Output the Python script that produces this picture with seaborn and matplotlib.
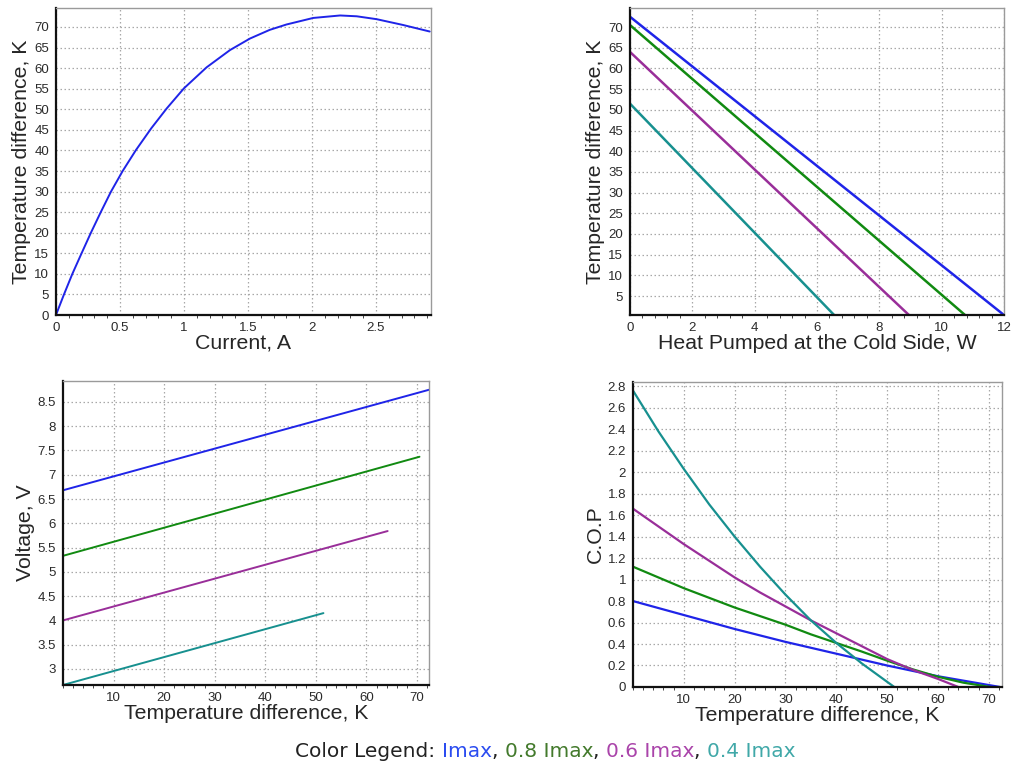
import matplotlib
matplotlib.use("Agg")
import matplotlib.pyplot as plt
import pandas as pd
import seaborn as sns
from matplotlib.offsetbox import TextArea, HPacker, AnchoredOffsetbox
from matplotlib.ticker import AutoMinorLocator

# ---- data ----
series_names = ["Imax", "0.8 Imax", "0.6 Imax", "0.4 Imax"]
line_colors = ["#1f24e8", "#118a11", "#992e99", "#17908f"]
legend_colors = ["#2b4cf0", "#437a2c", "#aa44aa", "#40a8a8"]

# top-left: dT vs current
current_a = [0.0, 0.0625, 0.128, 0.20, 0.273, 0.35, 0.43, 0.521, 0.625, 0.745, 0.865,
             1.0, 1.177, 1.36, 1.516, 1.67, 1.80, 2.01, 2.22, 2.35, 2.505, 2.71, 2.92]
dt_vs_current = [0.0, 5.0, 10.0, 15.0, 20.0, 25.0, 30.0, 35.0, 40.1, 45.4, 50.2,
                 55.1, 60.2, 64.4, 67.2, 69.3, 70.6, 72.2, 72.8, 72.6, 71.9, 70.5, 68.9]

# top-right: dT vs heat pumped (straight lines, endpoints)
q_start = [0.0, 0.0, 0.0, 0.0]
q_end = [12.0, 10.75, 8.95, 6.55]
dt_q_start = [72.5, 70.5, 64.0, 51.5]
dt_q_end = [0.4, 0.4, 0.4, 0.4]

# bottom-left: voltage vs dT (straight lines, endpoints)
dt_v_end = [72.4, 70.5, 64.2, 51.5]
volt_start = [6.68, 5.33, 4.0, 2.67]
volt_end = [8.75, 7.37, 5.84, 4.15]

# bottom-right: COP vs dT
cop_dt = [
    [0, 10, 20, 30, 40, 50, 60, 72.2],
    [0, 10, 20, 30, 35, 40, 45, 50, 55, 60, 65, 70.3],
    [0, 10, 20, 25, 30, 35, 40, 45, 50, 55, 60, 64.0],
    [0, 5, 10, 15, 20, 25, 30, 35, 40, 45, 51.4],
]
cop_vals = [
    [0.80, 0.67, 0.54, 0.42, 0.31, 0.20, 0.10, 0.0],
    [1.12, 0.92, 0.74, 0.58, 0.49, 0.41, 0.33, 0.245, 0.165, 0.095, 0.04, 0.0],
    [1.66, 1.33, 1.02, 0.88, 0.75, 0.62, 0.50, 0.38, 0.26, 0.16, 0.075, 0.0],
    [2.76, 2.38, 2.03, 1.70, 1.40, 1.12, 0.86, 0.62, 0.41, 0.22, 0.0],
]

sns.set_style("white")
plt.rcParams["font.family"] = ["Liberation Sans", "DejaVu Sans"]

fig = plt.figure(figsize=(10.12, 7.68), dpi=100)
ax_tl = fig.add_axes([0.0553, 0.5898, 0.3706, 0.3997])
ax_tr = fig.add_axes([0.6225, 0.5898, 0.3696, 0.3997])
ax_bl = fig.add_axes([0.0623, 0.1081, 0.3617, 0.3958])
ax_br = fig.add_axes([0.6255, 0.1055, 0.3646, 0.3971])


def style_axes(ax, xlabel, ylabel, xticks, yticks, xlim, ylim):
    ax.set_xlim(*xlim)
    ax.set_ylim(*ylim)
    ax.set_xticks(xticks)
    ax.set_yticks(yticks)
    ax.set_xticklabels([f"{t:g}" for t in xticks])
    ax.set_yticklabels([f"{t:g}" for t in yticks])
    ax.xaxis.set_minor_locator(AutoMinorLocator(5))
    ax.grid(True, which="major", linestyle=(0, (1.2, 2)), color="#a8a8a8", linewidth=0.9)
    ax.tick_params(axis="both", which="major", labelsize=9.5, labelcolor="#2a2a2a",
                   length=3, width=0.8, direction="out", pad=2)
    ax.tick_params(axis="x", which="minor", length=2.5, width=0.6, direction="out", bottom=True)
    for side in ["left", "bottom"]:
        ax.spines[side].set_color("#111111")
        ax.spines[side].set_linewidth(1.6)
    for side in ["top", "right"]:
        ax.spines[side].set_color("#9a9a9a")
        ax.spines[side].set_linewidth(1.0)
    ax.set_xlabel(xlabel, fontsize=15.3, labelpad=0)
    ax.set_ylabel(ylabel, fontsize=15.3, labelpad=2)


# top-left
df = pd.DataFrame({"I": current_a, "dT": dt_vs_current})
sns.lineplot(data=df, x="I", y="dT", ax=ax_tl, color=line_colors[0], linewidth=1.4)
style_axes(ax_tl, "Current, A", "Temperature difference, K",
           [0, 0.5, 1, 1.5, 2, 2.5], list(range(0, 75, 5)), (0, 2.93), (0, 74.6))

# top-right
for i in range(4):
    df = pd.DataFrame({"Q": [q_start[i], q_end[i]], "dT": [dt_q_start[i], dt_q_end[i]]})
    sns.lineplot(data=df, x="Q", y="dT", ax=ax_tr, color=line_colors[i], linewidth=1.8)
style_axes(ax_tr, "Heat Pumped at the Cold Side, W", "Temperature difference, K",
           [0, 2, 4, 6, 8, 10, 12], list(range(5, 75, 5)), (0, 12), (0.4, 74.6))

# bottom-left
for i in range(4):
    df = pd.DataFrame({"dT": [0, dt_v_end[i]], "V": [volt_start[i], volt_end[i]]})
    sns.lineplot(data=df, x="dT", y="V", ax=ax_bl, color=line_colors[i], linewidth=1.4)
style_axes(ax_bl, "Temperature difference, K", "Voltage, V",
           [10, 20, 30, 40, 50, 60, 70], [3, 3.5, 4, 4.5, 5, 5.5, 6, 6.5, 7, 7.5, 8, 8.5],
           (0, 72.4), (2.67, 8.93))

# bottom-right
for i in range(4):
    df = pd.DataFrame({"dT": cop_dt[i], "COP": cop_vals[i]})
    sns.lineplot(data=df, x="dT", y="COP", ax=ax_br, color=line_colors[i], linewidth=1.6)
style_axes(ax_br, "Temperature difference, K", "C.O.P",
           [10, 20, 30, 40, 50, 60, 70], [round(0.2 * k, 1) for k in range(15)],
           (0, 72.6), (0, 2.84))

# colour legend line
tp = dict(fontsize=14.5, family="DejaVu Sans")
parts = [TextArea("Color Legend: ", textprops=dict(color="#222222", **tp))]
for i, name in enumerate(series_names):
    parts.append(TextArea(name, textprops=dict(color=legend_colors[i], **tp)))
    if i < len(series_names) - 1:
        parts.append(TextArea(", ", textprops=dict(color="#222222", **tp)))
box = HPacker(children=parts, align="baseline", pad=0, sep=0)
anchored = AnchoredOffsetbox(loc="center", child=box, frameon=False,
                             bbox_to_anchor=(0.539, 0.021), bbox_transform=fig.transFigure)
fig.add_artist(anchored)

fig.savefig("out.png", dpi=100)
